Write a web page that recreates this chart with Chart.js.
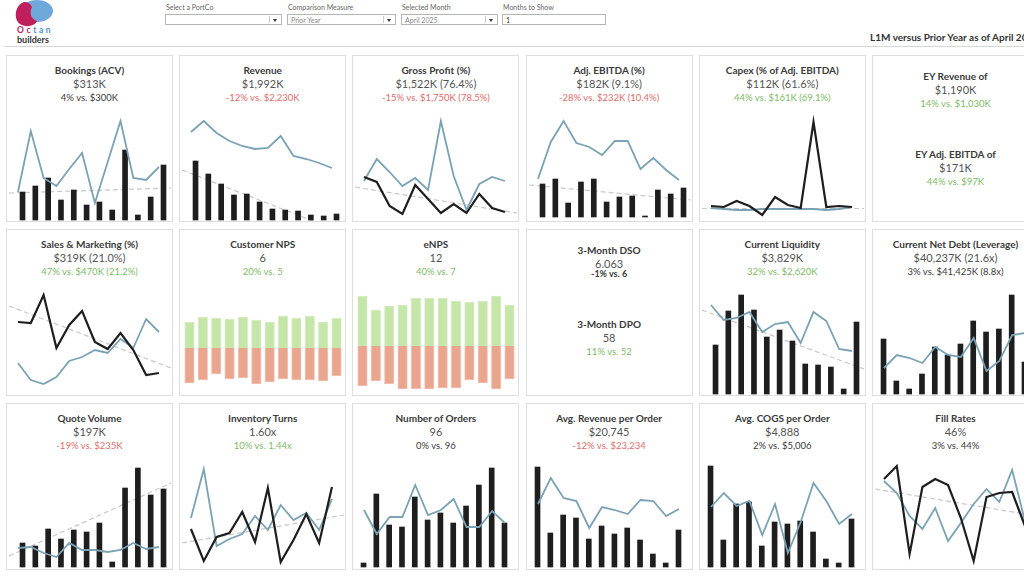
<!DOCTYPE html>
<html>
<head>
<meta charset="utf-8">
<script src="https://cdn.jsdelivr.net/npm/chart.js@4.4.1/dist/chart.umd.min.js"></script>
<style>
  html, body { margin: 0; padding: 0; background: #fff; }
  body { width: 1024px; height: 576px; overflow: hidden; position: relative; font-family: Lato, "Open Sans", sans-serif; }
  .lbl { position: absolute; top: 3px; font-size: 7px; color: #666; }
  .dd { position: absolute; top: 14px; height: 11px; border: 1px solid #b5b5b5; background: #fff; font-size: 7px; color: #888; line-height: 11px; padding-left: 3px; box-sizing: border-box; }
  .dd .arr { position: absolute; right: 4px; top: 4px; width: 0; height: 0; border-left: 2px solid transparent; border-right: 2px solid transparent; border-top: 3px solid #333; }
  .dd .bar { position: absolute; right: 11px; top: 1px; bottom: 1px; border-left: 1px solid #ccc; }
  #pageTitle { position: absolute; left: 870px; top: 31px; font-size: 10px; font-weight: bold; color: #333; white-space: nowrap; }
  #sep { position: absolute; left: 4px; right: 0; top: 46px; height: 1px; background: #d6d6d6; }
  .panel { position: absolute; width: 167px; height: 167px; border: 1px solid #dedede; box-sizing: border-box; background: #fff; }
  .panel canvas { position: absolute; left: 2px; top: 57px; }
  .t { position: absolute; left: 0; right: 0; text-align: center; line-height: 14px; white-space: nowrap; }
  .title { font-size: 10px; font-weight: bold; color: #3a3a3a; }
  .value { font-size: 11px; color: #555; }
  .comp { font-size: 9.5px; }
  .small { font-size: 9px; font-weight: bold; }
  .neutral { color: #3a3a3a; }
  .red { color: #de6b6b; }
  .green { color: #7dbb66; }
</style>
</head>
<body>
<svg style="position:absolute;left:0;top:0" width="70" height="46">
  <ellipse cx="37" cy="11" rx="16" ry="11" fill="#6fa9dc"/>
  <path d="M24,2 C15,5 13,19 20,24 C26,28 35,26 37,21 C31,19 29,13 32,7 C30,3 27,1.5 24,2 Z" fill="#bf1f5a"/>
  <text x="17" y="33" font-family="Lato, sans-serif" font-size="8.5" font-weight="bold" letter-spacing="2.6"><tspan fill="#bf1f5a">Oc</tspan><tspan fill="#4f8fcf">tan</tspan></text>
  <text x="17" y="43" font-family="Lato, sans-serif" font-size="9" font-weight="bold" fill="#333">builders</text>
</svg>
<div class="lbl" style="left:166px">Select a PortCo</div>
<div class="dd" style="left:165px;width:117px"><span class="bar"></span><span class="arr"></span></div>
<div class="lbl" style="left:288px">Comparison Measure</div>
<div class="dd" style="left:287px;width:109px">Prior Year<span class="bar"></span><span class="arr"></span></div>
<div class="lbl" style="left:402px">Selected Month</div>
<div class="dd" style="left:401px;width:97px">April 2025<span class="bar"></span><span class="arr"></span></div>
<div class="lbl" style="left:503px">Months to Show</div>
<div class="dd" style="left:502px;width:104px;color:#333">1</div>
<div id="pageTitle">L1M versus Prior Year as of April 2025</div>
<div id="sep"></div>

<script>
// 12 months ending in the selected month
const months = ["May 2024", "Jun 2024", "Jul 2024", "Aug 2024", "Sep 2024", "Oct 2024",
                "Nov 2024", "Dec 2024", "Jan 2025", "Feb 2025", "Mar 2025", "Apr 2025"];

// current year (black) / prior year (blue) / trend start-end (grey dashed), relative heights
const bookingsCur   = [28, 34, 42, 20, 30, 15, 18, 10, 70, 5, 23, 55];
const bookingsPrior = [28, 89, 42, 34, 51, 67, 17, 58, 99, 42, 40, 53];
const bookingsTrend = [27, 32];

const revenueCur   = [59, 46, 36, 25, 26, 18, 11, 10, 9, 5, 4, 6];
const revenuePrior = [88, 99, 87, 79, 74, 71, 72, 84, 64, 61, 57, 52];
const revenueTrend = [50, -13];

const gpCur   = [43, 38, 14, 6, 35, 21, 7, 16, 7, 26, 12, 8];
const gpPrior = [39, 61, 48, 34, 42, 30, 99, 44, 10, 36, 43, 39];
const gpTrend = [33, 7];

const ebitdaCur   = [33, 38, 14, 35, 38, 15, 20, 21, 1, 27, 23, 29];
const ebitdaPrior = [38, 75, 96, 74, 70, 62, 76, 76, 48, 59, 47, 37];
const ebitdaTrend = [32, 17];

const capexCur   = [3, 2, 8, 3, -6, 12, 4, 1, 87, 2, 3, 2];
const capexPrior = [1, 0, -1, -1, 0, 0, 0, 0, 0, -1, 0, 2];
const capexTrend = [0.5, 0.5];

const smCur   = [72, 71, 99, 46, 69, 83, 52, 45, 61, 44, 19, 21];
const smPrior = [31, 14, 10, 17, 33, 37, 44, 41, 55, 46, 75, 62];
const smTrend = [88, 26];

const npsPromoters  = [26, 31, 30, 29, 31, 28, 26, 32, 30, 32, 26, 30];
const npsDetractors = [-35, -32, -26, -31, -30, -36, -34, -31, -32, -32, -33, -28];

const enpsPromoters  = [50, 36, 40, 41, 48, 48, 48, 45, 44, 45, 50, 41];
const enpsDetractors = [-40, -35, -38, -43, -43, -43, -42, -42, -34, -37, -43, -33];

const liqCur   = [49, 83, 99, 84, 57, 64, 53, 30, 29, 27, 5, 72];
const liqPrior = [89, 74, 76, 82, 62, 70, 72, 51, 82, 73, 45, 43];
const liqTrend = [84, 25];

const debtCur   = [55, 13, 5, 20, 47, 39, 50, 73, 62, 65, 99, 32];
const debtPrior = [26, 39, 36, 31, 47, 39, 37, 56, 23, 33, 59, 61];

const quoteCur   = [24, 21, 38, 28, 37, 35, 44, 5, 79, 99, 72, 78];
const quotePrior = [19, 20, 14, 10, 24, 17, 17, 15, 17, 24, 18, 20];
const quoteTrend = [11, 84];

const invCur   = [38, 6, 30, 34, 55, 25, 79, 5, 27, 53, 24, 80];
const invPrior = [49, 98, 21, 28, 33, 51, 37, 62, 47, 54, 37, 68];
const invTrend = [24, 52];

const ordersCur   = [4, 73, 42, 40, 70, 47, 54, 44, 61, 82, 99, 44];
const ordersPrior = [57, 33, 50, 50, 82, 52, 57, 68, 40, 40, 56, 44];

const aroCur   = [100, 34, 52, 49, 28, 41, 33, 39, 27, 13, 4, 37];
const aroPrior = [63, 89, 69, 66, 39, 60, 57, 53, 67, 66, 51, 58];

const cogsCur   = [101, 27, 63, 65, 21, 45, 43, 46, 35, 8, 4, 48];
const cogsPrior = [60, 74, 61, 66, 32, 63, 14, 45, 84, 66, 43, 53];

const fillCur   = [88, 101, 13, 80, 88, 82, 49, 6, 70, 74, 75, 41];
const fillPrior = [86, 74, 51, 38, 59, 26, 44, 63, 78, 65, 97, 46];
const fillTrend = [78, 51];

const BLACK = "#1e1e1e", BLUE = "#7aa2b4", TREND = "#c8c8c8";
const GREEN_BAR = "#c6e5a8", RED_BAR = "#eaa58f";
const X_MIN = -0.7, X_MAX = 11.94, BAR_SHIFT = 0.16;
const CANVAS_TOP = 57, CANVAS_H = 108, CANVAS_W = 162;

// kind: bars = black bars + blue line, lines = black + blue lines, nps = split bars
const panels = [
  { title: "Bookings (ACV)", value: "$313K", comp: "4% vs. $300K", tone: "neutral", kind: "bars", cur: bookingsCur, prior: bookingsPrior, trend: bookingsTrend, zero: 164 },
  { title: "Revenue", value: "$1,992K", comp: "-12% vs. $2,230K", tone: "red", kind: "bars", cur: revenueCur, prior: revenuePrior, trend: revenueTrend, zero: 164 },
  { title: "Gross Profit (%)", value: "$1,522K (76.4%)", comp: "-15% vs. $1,750K (78.5%)", tone: "red", kind: "lines", cur: gpCur, prior: gpPrior, trend: gpTrend, zero: 164 },
  { title: "Adj. EBITDA (%)", value: "$182K (9.1%)", comp: "-28% vs. $232K (10.4%)", tone: "red", kind: "bars", cur: ebitdaCur, prior: ebitdaPrior, trend: ebitdaTrend, zero: 161 },
  { title: "Capex (% of Adj. EBITDA)", value: "$112K (61.6%)", comp: "44% vs. $161K (69.1%)", tone: "green", kind: "lines", cur: capexCur, prior: capexPrior, trend: capexTrend, zero: 153 },
  { kind: "text", blocks: [
      { title: "EY Revenue of", value: "$1,190K", comp: "14% vs. $1,030K", tone: "green", top: 20 },
      { title: "EY Adj. EBITDA of", value: "$171K", comp: "44% vs. $97K", tone: "green", top: 98 } ] },

  { title: "Sales & Marketing (%)", value: "$319K (21.0%)", comp: "47% vs. $470K (21.2%)", tone: "green", kind: "lines", cur: smCur, prior: smPrior, trend: smTrend, zero: 164 },
  { title: "Customer NPS", value: "6", comp: "20% vs. 5", tone: "green", kind: "nps", pos: npsPromoters, neg: npsDetractors, zero: 118 },
  { title: "eNPS", value: "12", comp: "40% vs. 7", tone: "green", kind: "nps", pos: enpsPromoters, neg: enpsDetractors, zero: 116 },
  { kind: "text", blocks: [
      { title: "3-Month DSO", value: "6.063", comp: "-1% vs. 6", tone: "neutral", top: 20, tight: true },
      { title: "3-Month DPO", value: "58", comp: "11% vs. 52", tone: "green", top: 94 } ] },
  { title: "Current Liquidity", value: "$3,829K", comp: "32% vs. $2,620K", tone: "green", kind: "bars", cur: liqCur, prior: liqPrior, trend: liqTrend, zero: 164 },
  { title: "Current Net Debt (Leverage)", value: "$40,237K (21.6x)", comp: "3% vs. $41,425K (8.8x)", tone: "neutral", kind: "bars", cur: debtCur, prior: debtPrior, zero: 164 },

  { title: "Quote Volume", value: "$197K", comp: "-19% vs. $235K", tone: "red", kind: "bars", cur: quoteCur, prior: quotePrior, trend: quoteTrend, zero: 163 },
  { title: "Inventory Turns", value: "1.60x", comp: "10% vs. 1.44x", tone: "green", kind: "lines", cur: invCur, prior: invPrior, trend: invTrend, zero: 163 },
  { title: "Number of Orders", value: "96", comp: "0% vs. 96", tone: "neutral", kind: "bars", cur: ordersCur, prior: ordersPrior, zero: 163 },
  { title: "Avg. Revenue per Order", value: "$20,745", comp: "-12% vs. $23,234", tone: "red", kind: "bars", cur: aroCur, prior: aroPrior, zero: 163 },
  { title: "Avg. COGS per Order", value: "$4,888", comp: "2% vs. $5,006", tone: "neutral", kind: "bars", cur: cogsCur, prior: cogsPrior, zero: 163 },
  { title: "Fill Rates", value: "46%", comp: "3% vs. 44%", tone: "neutral", kind: "lines", cur: fillCur, prior: fillPrior, trend: fillTrend, zero: 163 }
];

function addText(panel, cls, text, top) {
  const d = document.createElement("div");
  d.className = "t " + cls;
  d.style.top = (top - 7) + "px";
  d.textContent = text;
  panel.appendChild(d);
}

const pts = arr => arr.map((v, i) => ({ x: i, y: v }));

function buildChart(canvas, p) {
  const ds = [];
  let xbMin = X_MIN - BAR_SHIFT, xbMax = X_MAX - BAR_SHIFT;
  if (p.trend) {
    ds.push({ type: "line", xAxisID: "x", data: [{ x: X_MIN, y: p.trend[0] }, { x: X_MAX, y: p.trend[1] }],
      borderColor: TREND, borderWidth: 1.2, borderDash: [5, 3], pointRadius: 0, order: 9 });
  }
  if (p.kind === "bars") {
    ds.push({ type: "bar", xAxisID: "xb", data: pts(p.cur), backgroundColor: BLACK, barThickness: 5, order: 5 });
    ds.push({ type: "line", xAxisID: "x", data: pts(p.prior), borderColor: BLUE, borderWidth: 1.8, pointRadius: 0, tension: 0, order: 1 });
  } else if (p.kind === "lines") {
    ds.push({ type: "line", xAxisID: "x", data: pts(p.prior), borderColor: BLUE, borderWidth: 1.8, pointRadius: 0, tension: 0, order: 2 });
    ds.push({ type: "line", xAxisID: "x", data: pts(p.cur), borderColor: BLACK, borderWidth: 2.2, pointRadius: 0, tension: 0, order: 1 });
  } else if (p.kind === "nps") {
    xbMin = -0.56; xbMax = 11.56;
    ds.push({ type: "bar", xAxisID: "xb", data: pts(p.pos), backgroundColor: GREEN_BAR, borderColor: "#d8eec4", borderWidth: 1, barThickness: 9.5, grouped: false });
    ds.push({ type: "bar", xAxisID: "xb", data: pts(p.neg), backgroundColor: RED_BAR, borderColor: "#f2c3b3", borderWidth: 1, barThickness: 9.5, grouped: false });
  }
  new Chart(canvas, {
    type: "line",
    data: { datasets: ds },
    options: {
      responsive: false,
      animation: false,
      events: [],
      layout: { padding: 0 },
      plugins: { legend: { display: false }, tooltip: { enabled: false } },
      scales: {
        x:  { type: "linear", display: false, min: X_MIN, max: X_MAX, offset: false },
        xb: { type: "linear", display: false, min: xbMin, max: xbMax, offset: false },
        y:  { type: "linear", display: false, min: p.zero - CANVAS_TOP - CANVAS_H, max: p.zero - CANVAS_TOP }
      }
    }
  });
}

panels.forEach((p, idx) => {
  const col = idx % 6, row = Math.floor(idx / 6);
  const panel = document.createElement("div");
  panel.className = "panel";
  panel.style.left = (6 + 173.2 * col) + "px";
  panel.style.top = (55 + 174 * row) + "px";
  document.body.appendChild(panel);

  if (p.kind === "text") {
    p.blocks.forEach(b => {
      addText(panel, "title", b.title, b.top);
      addText(panel, "value", b.value, b.top + 14);
      addText(panel, b.tight ? "small neutral" : "comp " + b.tone, b.comp, b.top + (b.tight ? 24 : 28));
    });
    return;
  }
  addText(panel, "title", p.title, 14);
  addText(panel, "value", p.value, 28);
  addText(panel, "comp " + p.tone, p.comp, 42);

  const c = document.createElement("canvas");
  c.width = CANVAS_W;
  c.height = CANVAS_H;
  c.style.width = CANVAS_W + "px";
  c.style.height = CANVAS_H + "px";
  panel.appendChild(c);
  buildChart(c, p);
});
</script>
</body>
</html>
